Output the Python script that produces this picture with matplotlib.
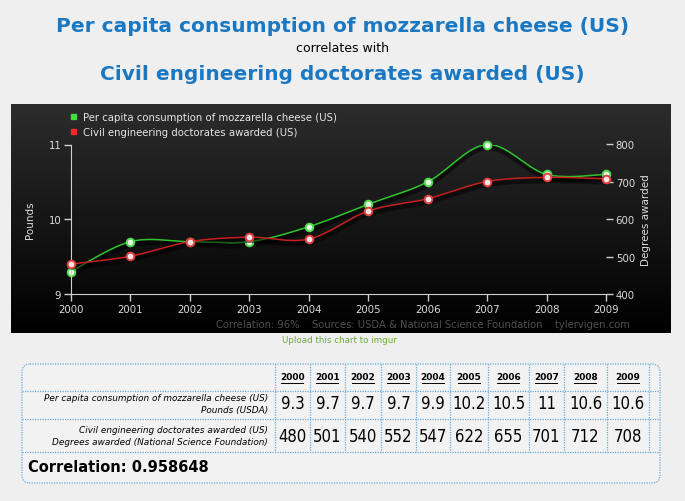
import matplotlib
matplotlib.use("Agg")
import matplotlib.pyplot as plt
import numpy as np
from matplotlib.patches import FancyBboxPatch, Rectangle

years = [2000, 2001, 2002, 2003, 2004, 2005, 2006, 2007, 2008, 2009]
cheese = [9.3, 9.7, 9.7, 9.7, 9.9, 10.2, 10.5, 11, 10.6, 10.6]
doctorates = [480, 501, 540, 552, 547, 622, 655, 701, 712, 708]
cheese_label = "Per capita consumption of mozzarella cheese (US)"
doct_label = "Civil engineering doctorates awarded (US)"
cheese_unit = "Pounds (USDA)"
doct_unit = "Degrees awarded (National Science Foundation)"
correlation = 0.958648

W, H = 685, 502
BG = "#efefef"
BLUE = "#1a78c2"
GREEN = "#2fc42f"
RED = "#c81e1e"
AXC = "#cfcfcf"
DOT = "#6aaee0"


def spline(x, y, n=20):
    # catmull-rom curve through the points, just for the smooth look
    x = np.asarray(x, float)
    y = np.asarray(y, float)
    px = np.r_[x[0], x, x[-1]]
    py = np.r_[y[0], y, y[-1]]
    xs, ys = [], []
    t = np.linspace(0, 1, n)
    for i in range(1, len(px) - 2):
        for p, out in ((px, xs), (py, ys)):
            p0, p1, p2, p3 = p[i - 1], p[i], p[i + 1], p[i + 2]
            m1 = (p2 - p0) / 2
            m2 = (p3 - p1) / 2
            h00 = 2 * t**3 - 3 * t**2 + 1
            h10 = t**3 - 2 * t**2 + t
            h01 = -2 * t**3 + 3 * t**2
            h11 = t**3 - t**2
            out.extend(h00 * p1 + h10 * m1 + h01 * p2 + h11 * m2)
    return np.array(xs), np.array(ys)


fig = plt.figure(figsize=(W / 100, H / 100), dpi=100, facecolor=BG)

# overlay in pixel coordinates for headings, panel and table
ov = fig.add_axes([0, 0, 1, 1])
ov.set_xlim(0, W)
ov.set_ylim(H, 0)
ov.axis("off")
ov.set_zorder(0)

ov.text(W / 2, 27, cheese_label, color=BLUE, fontsize=14.5, fontweight="bold", ha="center", va="center")
ov.text(W / 2, 49, "correlates with", color="black", fontsize=9, ha="center", va="center")
ov.text(W / 2, 75, doct_label, color=BLUE, fontsize=14.5, fontweight="bold", ha="center", va="center")

# dark panel with vertical gradient
grad = np.linspace(0, 1, 256).reshape(-1, 1)
ov.imshow(grad, extent=[11, 671, 334, 105], cmap=matplotlib.colors.LinearSegmentedColormap.from_list("g", ["#2c2c2c", "#000000"]),
          aspect="auto", zorder=1)
ov.set_xlim(0, W)
ov.set_ylim(H, 0)

ov.text(630, 325, "Correlation: 96%    Sources: USDA & National Science Foundation    tylervigen.com",
        color="#505050", fontsize=7.2, ha="right", va="center", zorder=2)
ov.text(339, 341, "Upload this chart to imgur", color="#6aaa38", fontsize=6.3, ha="center", va="center")

# legend squares
ov.add_patch(Rectangle((71, 115), 5, 5, color="#3ee03e", zorder=2))
ov.add_patch(Rectangle((71, 130), 5, 5, color="#ee2a2a", zorder=2))
ov.text(83, 118, cheese_label, color="#e6e6e6", fontsize=7.3, va="center", zorder=2)
ov.text(83, 133, doct_label, color="#e6e6e6", fontsize=7.3, va="center", zorder=2)

# chart axes
ax = fig.add_axes([71 / W, 1 - 295 / H, (606 - 71) / W, (295 - 145.5) / H])
ax.set_zorder(2)
ax.patch.set_visible(False)
ax2 = ax.twinx()
ax2.patch.set_visible(False)

ax.set_xlim(2000, 2009)
ax.set_ylim(9, 11)
ax2.set_ylim(400, 800)
ax.set_xticks(years)
ax.set_yticks([9, 10, 11])
ax2.set_yticks([400, 500, 600, 700, 800])

for a in (ax, ax2):
    for s in a.spines.values():
        s.set_visible(False)
ax.spines["left"].set_visible(True)
ax.spines["bottom"].set_visible(True)
ax.spines["left"].set_color(AXC)
ax.spines["bottom"].set_color(AXC)
ax.tick_params(axis="both", colors=AXC, labelcolor="#dddddd", labelsize=7.3, length=5, width=1, direction="out", pad=2)
ax2.tick_params(axis="y", colors=AXC, labelcolor="#dddddd", labelsize=7.3, length=5, width=1, direction="out", pad=2)
ax.set_ylabel("Pounds", color="#dddddd", fontsize=7.5, labelpad=10)
ax2.set_ylabel("Degrees awarded", color="#dddddd", fontsize=7.5, labelpad=4)

sx, sy = spline(years, cheese)
rx, ry = spline(years, doctorates)
# soft shadows
ax.plot(sx, sy - 0.04, color="black", lw=4, alpha=0.5, solid_capstyle="round")
ax2.plot(rx, ry - 8, color="black", lw=4, alpha=0.5, solid_capstyle="round")
ax.plot(sx, sy, color=GREEN, lw=1.1)
ax2.plot(rx, ry, color=RED, lw=1.1)
ax.plot(years, cheese, "o", ms=5.5, mfc="#e6ffe6", mec="#4fd84f", mew=1.4, clip_on=False)
ax2.plot(years, doctorates, "o", ms=5.5, mfc="#ffe6e6", mec="#e04040", mew=1.4, clip_on=False)

# data table
tb = ov
tb.add_patch(FancyBboxPatch((22, 365), 638, 119, boxstyle="round,pad=0,rounding_size=8",
                            fc="#f2f2f2", ec=DOT, lw=0.9, ls=(0, (1, 1))))
col_edges = [275, 310, 345, 381, 416, 450, 488, 529, 564, 607, 649]
for xe in col_edges:
    tb.plot([xe, xe], [365, 453], color=DOT, lw=0.9, ls=(0, (1, 1)))
for ye in (392, 420, 453):
    tb.plot([22, 660], [ye, ye], color=DOT, lw=0.9, ls=(0, (1, 1)))

for i, yr in enumerate(years):
    cx = (col_edges[i] + col_edges[i + 1]) / 2
    t = tb.text(cx, 378, str(yr), fontsize=6.5, fontweight="bold", ha="center", va="center")
    tb.plot([cx - 11, cx + 11], [383.5, 383.5], color="black", lw=0.7)
    tb.text(cx, 404, f"{cheese[i]:g}", fontsize=12, ha="center", va="center", fontstretch="condensed")
    tb.text(cx, 437, f"{doctorates[i]}", fontsize=12, ha="center", va="center", fontstretch="condensed")

tb.text(268, 399, cheese_label, fontsize=6.4, style="italic", ha="right", va="center")
tb.text(268, 411, cheese_unit, fontsize=6.4, style="italic", ha="right", va="center")
tb.text(268, 431, doct_label, fontsize=6.4, style="italic", ha="right", va="center")
tb.text(268, 443, doct_unit, fontsize=6.4, style="italic", ha="right", va="center")
tb.text(28, 468, f"Correlation: {correlation}", fontsize=10.5, fontweight="bold", ha="left", va="center")

fig.savefig("out.png", dpi=100, facecolor=BG)
